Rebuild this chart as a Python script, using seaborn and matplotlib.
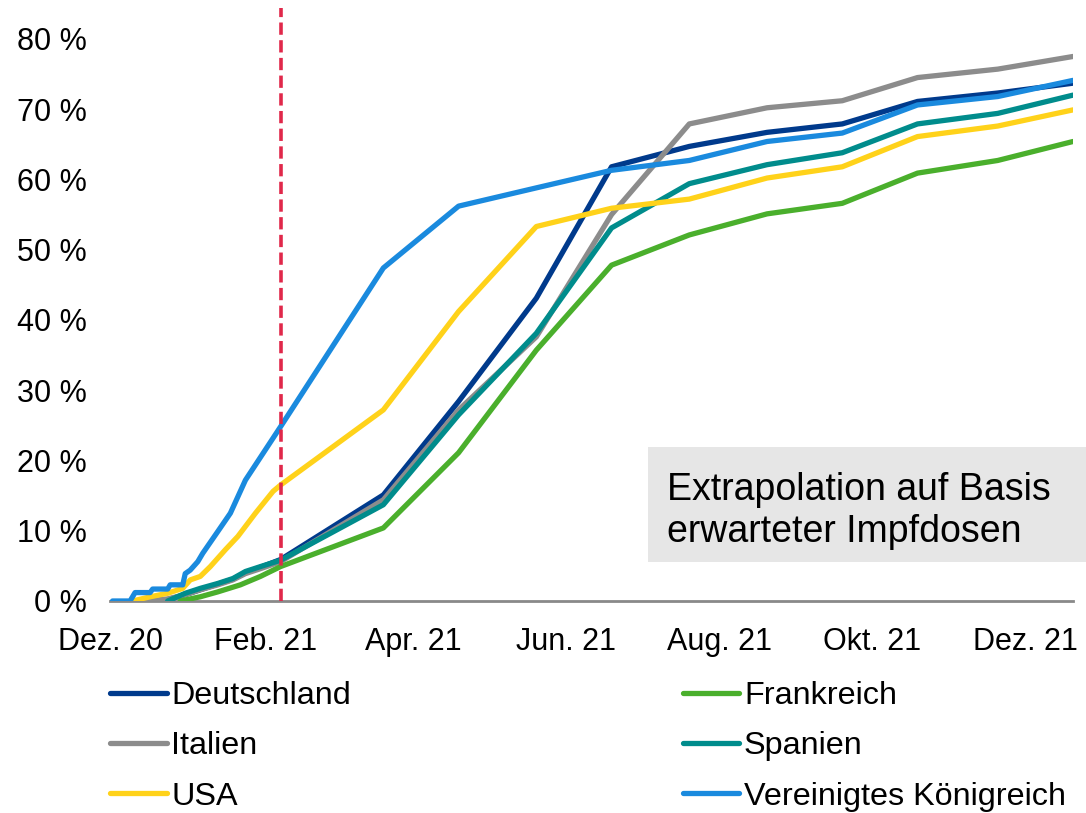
import pandas as pd
import numpy as np
import seaborn as sns
import matplotlib.pyplot as plt
from matplotlib.lines import Line2D
from matplotlib.patches import Rectangle

# monthly extrapolation points
months = ["2021-03-20", "2021-04-19", "2021-05-20", "2021-06-19", "2021-07-20",
          "2021-08-20", "2021-09-19", "2021-10-19", "2021-11-20", "2021-12-20"]

# Deutschland
de_dates = ["2020-12-22", "2020-12-31", "2021-01-06", "2021-01-13", "2021-01-19",
            "2021-01-24", "2021-01-30", "2021-02-07"] + months
de_vals = [0, 0.9, 1.6, 2.4, 3.1, 4.0, 4.8, 5.9,
           15.1, 28.4, 43.1, 61.8, 64.7, 66.7, 67.9, 71.1, 72.3, 73.7]

# Frankreich
fr_dates = ["2020-12-29", "2021-01-06", "2021-01-13", "2021-01-22", "2021-01-30",
            "2021-02-07"] + months
fr_vals = [0, 0.6, 1.3, 2.3, 3.5, 4.9,
           10.4, 21.1, 35.7, 47.8, 52.1, 55.1, 56.6, 60.9, 62.7, 65.4]

# Italien
it_dates = ["2020-12-16", "2020-12-24", "2020-12-31", "2021-01-06", "2021-01-13",
            "2021-01-19", "2021-01-24", "2021-01-30", "2021-02-07"] + months
it_vals = [0, 0.3, 0.9, 1.6, 2.3, 3.0, 3.9, 4.6, 5.6,
           14.4, 27.2, 37.6, 55.0, 67.9, 70.2, 71.2, 74.5, 75.7, 77.5]

# Spanien
es_dates = ["2020-12-24", "2020-12-31", "2021-01-06", "2021-01-13", "2021-01-19",
            "2021-01-24", "2021-01-30", "2021-02-07"] + months
es_vals = [0, 1.1, 1.8, 2.5, 3.2, 4.2, 4.9, 5.8,
           13.7, 26.5, 38.1, 53.1, 59.4, 62.1, 63.8, 67.9, 69.4, 72.0]

# USA
us_dates = ["2020-12-10", "2020-12-17", "2020-12-24", "2020-12-30", "2021-01-02",
            "2021-01-06", "2021-01-10", "2021-01-16", "2021-01-21", "2021-01-28",
            "2021-02-04", "2021-02-07"] + months
us_vals = [0, 0.6, 1.1, 1.8, 3.0, 3.5, 4.9, 7.3, 9.2, 12.5, 15.6, 16.5,
           27.2, 41.2, 53.3, 55.9, 57.2, 60.2, 61.8, 66.1, 67.6, 69.9]

# Vereinigtes Königreich
uk_dates = ["2020-12-02", "2020-12-09", "2020-12-11", "2020-12-17", "2020-12-18",
            "2020-12-24", "2020-12-25", "2020-12-30", "2020-12-31", "2021-01-02",
            "2021-01-05", "2021-01-07", "2021-01-13", "2021-01-18", "2021-01-24",
            "2021-01-31", "2021-02-07"] + months
uk_vals = [0, 0, 1.2, 1.2, 1.7, 1.7, 2.3, 2.3, 3.9, 4.4, 5.6, 6.8, 9.9, 12.5,
           17.2, 21.0, 24.8,
           47.4, 56.2, 58.8, 61.3, 62.7, 65.4, 66.6, 70.6, 71.8, 74.1]

countries = ["Deutschland", "Frankreich", "Italien", "Spanien", "USA",
             "Vereinigtes Königreich"]
colors = ["#003A8C", "#4AAF2C", "#8C8C8C", "#008C8C", "#FFD21A", "#1A8ADE"]
today = "2021-02-07"

x_ticks = ["2020-12-01", "2021-02-01", "2021-04-01", "2021-06-01",
           "2021-08-01", "2021-10-01", "2021-12-01"]
x_labels = ["Dez. 20", "Feb. 21", "Apr. 21", "Jun. 21", "Aug. 21", "Okt. 21", "Dez. 21"]
y_ticks = [0, 10, 20, 30, 40, 50, 60, 70, 80]

series = [(de_dates, de_vals), (fr_dates, fr_vals), (it_dates, it_vals),
          (es_dates, es_vals), (us_dates, us_vals), (uk_dates, uk_vals)]
frames = []
for name, (d, v) in zip(countries, series):
    frames.append(pd.DataFrame({"Datum": pd.to_datetime(d), "Quote": v, "Land": name}))
df = pd.concat(frames, ignore_index=True)

sns.set_theme(style="white")
plt.rcParams["font.family"] = ["Liberation Sans", "DejaVu Sans"]
plt.rcParams["text.color"] = "black"
plt.rcParams["xtick.color"] = "black"
plt.rcParams["ytick.color"] = "black"

fig = plt.figure(figsize=(10.86, 8.13), dpi=100)
ax = fig.add_axes([110 / 1086, 1 - 601 / 813, (1073 - 110) / 1086, (601 - 8) / 813])
ax.patch.set_alpha(0)

palette = dict(zip(countries, colors))
draw_order = ["Deutschland", "Italien", "Frankreich", "Spanien", "USA", "Vereinigtes Königreich"]
for i, name in enumerate(draw_order):
    sns.lineplot(data=df[df["Land"] == name], x="Datum", y="Quote", color=palette[name],
                 linewidth=3.8, estimator=None, ax=ax, legend=False, zorder=3 + i)

ax.axvline(pd.Timestamp(today), color="#E0284A", linewidth=2.6, dashes=(3.4, 1.5), zorder=10)

ax.set_xlim(pd.Timestamp("2020-12-01"), pd.Timestamp("2021-12-20"))
ax.set_ylim(0, 84.4)
ax.set_xticks(pd.to_datetime(x_ticks))
ax.set_xticklabels(x_labels)
ax.set_yticks(y_ticks)
ax.set_yticklabels([f"{v} %" for v in y_ticks])
ax.tick_params(axis="both", length=0, labelsize=22)
ax.tick_params(axis="y", pad=17)
ax.tick_params(axis="x", pad=19)
ax.set_xlabel("")
ax.set_ylabel("")
for s in ["top", "right", "left"]:
    ax.spines[s].set_visible(False)
ax.spines["bottom"].set_color("#898989")
ax.spines["bottom"].set_linewidth(2)
ax.spines["bottom"].set_zorder(1)

# note box
fig.patches.append(Rectangle((648 / 1086, 1 - 562 / 813), (1086 - 648) / 1086, 115 / 813,
                             transform=fig.transFigure, facecolor="#E6E6E6",
                             edgecolor="none", zorder=2))
fig.text(667 / 1086, 1 - 511 / 813, "Extrapolation auf Basis\nerwarteter Impfdosen",
         fontsize=27, va="center", ha="left", linespacing=1.2, zorder=3)

# legend, filled row-wise
handles = {n: Line2D([0], [0], color=palette[n], linewidth=3.8,
                     solid_capstyle="round") for n in countries}
leg_order = ["Deutschland", "Italien", "USA", "Frankreich", "Spanien", "Vereinigtes Königreich"]
fig.legend([handles[n] for n in leg_order], leg_order, ncol=2, loc="upper left",
           bbox_to_anchor=(110 / 1086, 1 - 681 / 813, (1066 - 110) / 1086, 0),
           mode="expand", frameon=False, fontsize=23.3, handlelength=1.75,
           handletextpad=0.15, labelspacing=0.63, borderpad=0, borderaxespad=0)

fig.savefig("out.png", dpi=100)
